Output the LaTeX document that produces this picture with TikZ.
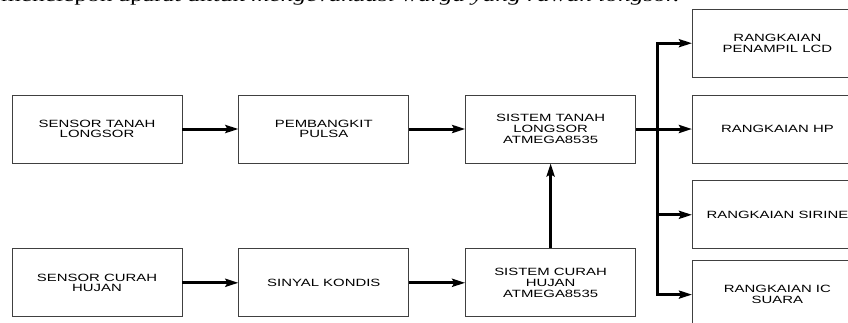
\documentclass[tikz,border=0pt]{standalone}
\usepackage{fontspec}
\setmainfont{Liberation Serif}
\newfontfamily\boxfont{Liberation Sans}[FakeStretch=1.42]
\newfontfamily\bodyfont{Liberation Serif}[FakeStretch=1.45]
\usetikzlibrary{arrows.meta, positioning}

\begin{document}
\begin{tikzpicture}[
    x=1pt, y=-1pt,
    node distance=85pt and 56pt,
    box/.style={rectangle, draw=black!75, line width=0.8pt, fill=white, minimum width=170pt, minimum height=68pt, inner sep=2pt, align=center, font=\boxfont\fontsize{10.5}{10.7}\selectfont},
    arrow/.style={-{Stealth[length=13pt, width=8pt, inset=2pt]}, line width=3pt}
]
\useasboundingbox (0,0) rectangle (848,322);

% cut-off line of text above the figure
\node[anchor=base west, inner sep=0pt, font=\bodyfont\fontsize{17.5}{17.5}\selectfont] (teks) at (1,1.5) {menelepon aparat untuk \textit{mengevakuasi warga yang rawan longsor.}};

\node[box] (sensortanah) at (97,129) {SENSOR TANAH\\LONGSOR};
\node[box, right=of sensortanah] (pembangkit) {PEMBANGKIT\\PULSA};
\node[box, right=of pembangkit] (sistemtanah) {SISTEM TANAH\\LONGSOR\\ATMEGA8535};
\node[box, below=of sensortanah] (sensorcurah) {SENSOR CURAH\\HUJAN};
\node[box, right=of sensorcurah] (sinyal) {SINYAL KONDIS};
\node[box, right=of sinyal] (sistemcurah) {SISTEM CURAH\\HUJAN\\ATMEGA8535};

% output column
\node[box, right=of sistemtanah] (hp) {RANGKAIAN HP};
\node[box, above=17pt of hp] (lcd) {RANGKAIAN\\PENAMPIL LCD};
\node[box, below=17pt of hp] (sirine) {RANGKAIAN SIRINE};
\node[box, below=11pt of sirine] (icsuara) {RANGKAIAN IC\\SUARA};

\draw[arrow] (sensortanah) -- (pembangkit);
\draw[arrow] (pembangkit) -- (sistemtanah);
\draw[arrow] (sensorcurah) -- (sinyal);
\draw[arrow] (sinyal) -- (sistemcurah);
\draw[arrow] (sistemcurah) -- (sistemtanah);
\draw[arrow] (sistemtanah) -- (hp);

\coordinate[right=21pt of sistemtanah.east] (cabang);
\draw[arrow] (cabang) |- (lcd);
\draw[arrow] (cabang) |- (sirine);
\draw[arrow] (cabang) |- (icsuara);

\end{tikzpicture}
\end{document}
